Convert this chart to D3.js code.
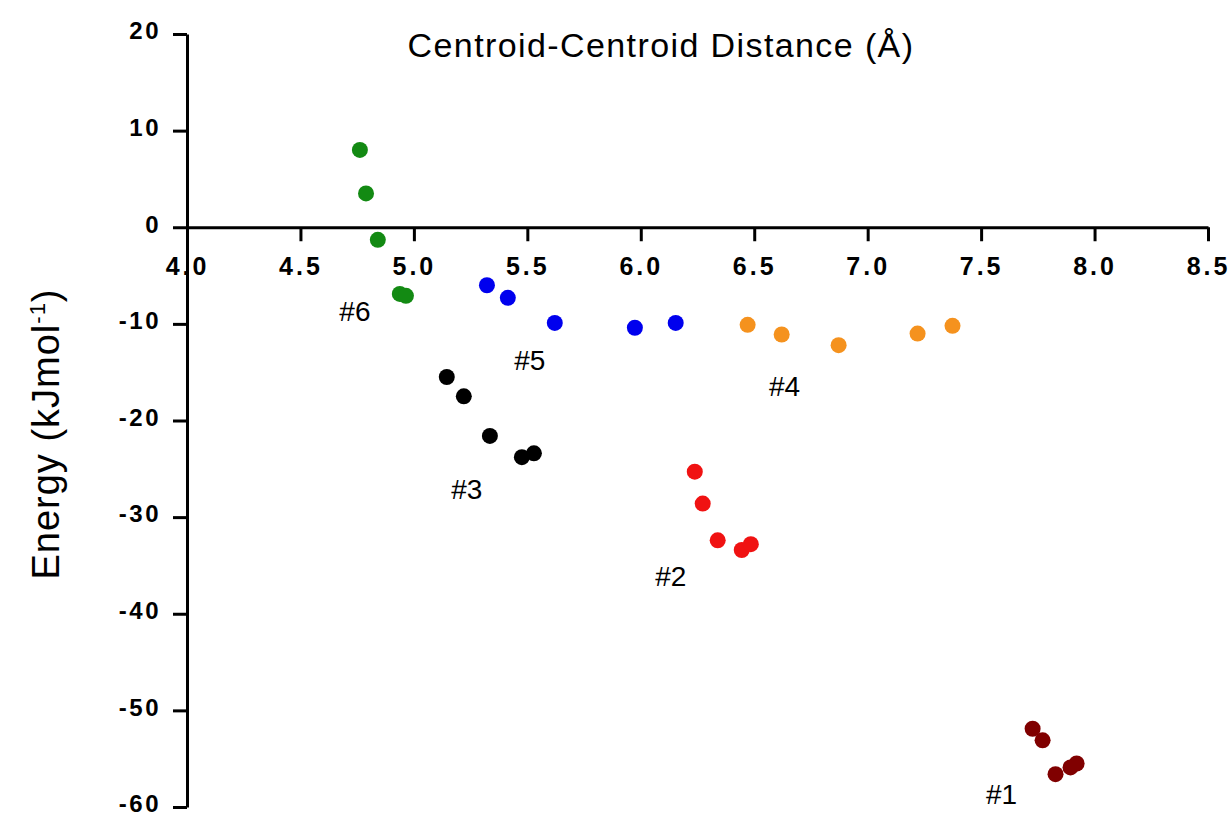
<html>
  <head>
    <script src="https://cdn.jsdelivr.net/npm/d3@7"></script>
    <style>
      body { margin: 0; background: #fff; }
      text { font-family: "Liberation Sans", Arial, sans-serif; fill: #000; }
    </style>
  </head>
  <body>
    <script>
      const width = 1231, height = 818;

      // cluster names and colours
      const groups = ["#1", "#2", "#3", "#4", "#5", "#6"];
      const colors = ["#800000", "#f01212", "#000000", "#f5921e", "#0000ee", "#138a13"];

      // centroid-centroid distance (Å) per cluster
      const dist1 = [7.727, 7.771, 7.828, 7.894, 7.921];
      const dist2 = [6.238, 6.273, 6.339, 6.445, 6.485];
      const dist3 = [5.145, 5.220, 5.335, 5.476, 5.529];
      const dist4 = [6.471, 6.621, 6.872, 7.220, 7.374];
      const dist5 = [5.322, 5.414, 5.621, 5.974, 6.154];
      const dist6 = [4.762, 4.789, 4.841, 4.938, 4.965];

      // energy (kJ/mol) per cluster
      const energy1 = [-51.9, -53.1, -56.6, -55.9, -55.5];
      const energy2 = [-25.3, -28.6, -32.4, -33.4, -32.8];
      const energy3 = [-15.5, -17.5, -21.6, -23.8, -23.4];
      const energy4 = [-10.1, -11.1, -12.2, -11.0, -10.2];
      const energy5 = [-6.0, -7.3, -9.9, -10.4, -9.9];
      const energy6 = [8.0, 3.5, -1.3, -6.9, -7.1];

      // label anchor (data coords) for each cluster
      const labelX = [7.59, 6.132, 5.233, 6.634, 5.511, 4.74];
      const labelY = [-58.7, -36.1, -27.1, -16.5, -13.8, -8.7];

      const xTicks = [4.0, 4.5, 5.0, 5.5, 6.0, 6.5, 7.0, 7.5, 8.0, 8.5];
      const yTicks = [20, 10, 0, -10, -20, -30, -40, -50, -60];

      const distances = [dist1, dist2, dist3, dist4, dist5, dist6];
      const energies = [energy1, energy2, energy3, energy4, energy5, energy6];

      const svg = d3.select("body").append("svg")
          .attr("width", width)
          .attr("height", height);

      const x = d3.scaleLinear().domain([4.0, 8.5]).range([187, 1208]);
      const y = d3.scaleLinear().domain([-60, 20]).range([807, 34]);

      // x axis sits on y = 0
      const xAxis = svg.append("g")
          .attr("transform", `translate(0,${y(0)})`)
          .call(d3.axisBottom(x).tickValues(xTicks).tickFormat(d3.format(".1f"))
            .tickSize(14).tickSizeOuter(0).tickPadding(16));
      xAxis.selectAll("text")
          .style("font-size", "25px")
          .style("font-weight", "bold")
          .style("letter-spacing", "3px");

      const yAxis = svg.append("g")
          .attr("transform", `translate(${x(4.0)},0)`)
          .call(d3.axisLeft(y).tickValues(yTicks).tickFormat(d => String(d))
            .tickSize(14).tickSizeOuter(0).tickPadding(12));
      yAxis.selectAll("text")
          .attr("dy", "0.2em")
          .style("font-size", "24px")
          .style("font-weight", "bold")
          .style("letter-spacing", "2.5px");

      svg.selectAll(".domain, .tick line")
          .attr("stroke", "#000")
          .attr("stroke-width", 3);

      // points
      groups.forEach((g, i) => {
        svg.append("g").selectAll("circle")
            .data(d3.zip(distances[i], energies[i]))
            .join("circle")
            .attr("cx", d => x(d[0]))
            .attr("cy", d => y(d[1]))
            .attr("r", 8)
            .attr("fill", colors[i]);
      });

      // cluster labels
      svg.append("g").selectAll("text")
          .data(groups)
          .join("text")
          .attr("x", (d, i) => x(labelX[i]))
          .attr("y", (d, i) => y(labelY[i]))
          .attr("text-anchor", "middle")
          .attr("dominant-baseline", "central")
          .style("font-size", "28px")
          .text(d => d);

      // titles
      svg.append("text")
          .attr("x", 661)
          .attr("y", 57)
          .attr("text-anchor", "middle")
          .style("font-size", "34px")
          .style("letter-spacing", "1.4px")
          .text("Centroid-Centroid Distance (Å)");

      const yLabel = svg.append("text")
          .attr("transform", "translate(59,434) rotate(-90)")
          .attr("text-anchor", "middle")
          .style("font-size", "38px")
          .style("letter-spacing", "1px");
      yLabel.append("tspan").text("Energy (kJmol");
      yLabel.append("tspan").attr("dy", -14).style("font-size", "22px").text("-1");
      yLabel.append("tspan").attr("dy", 14).text(")");
    </script>
  </body>
</html>
